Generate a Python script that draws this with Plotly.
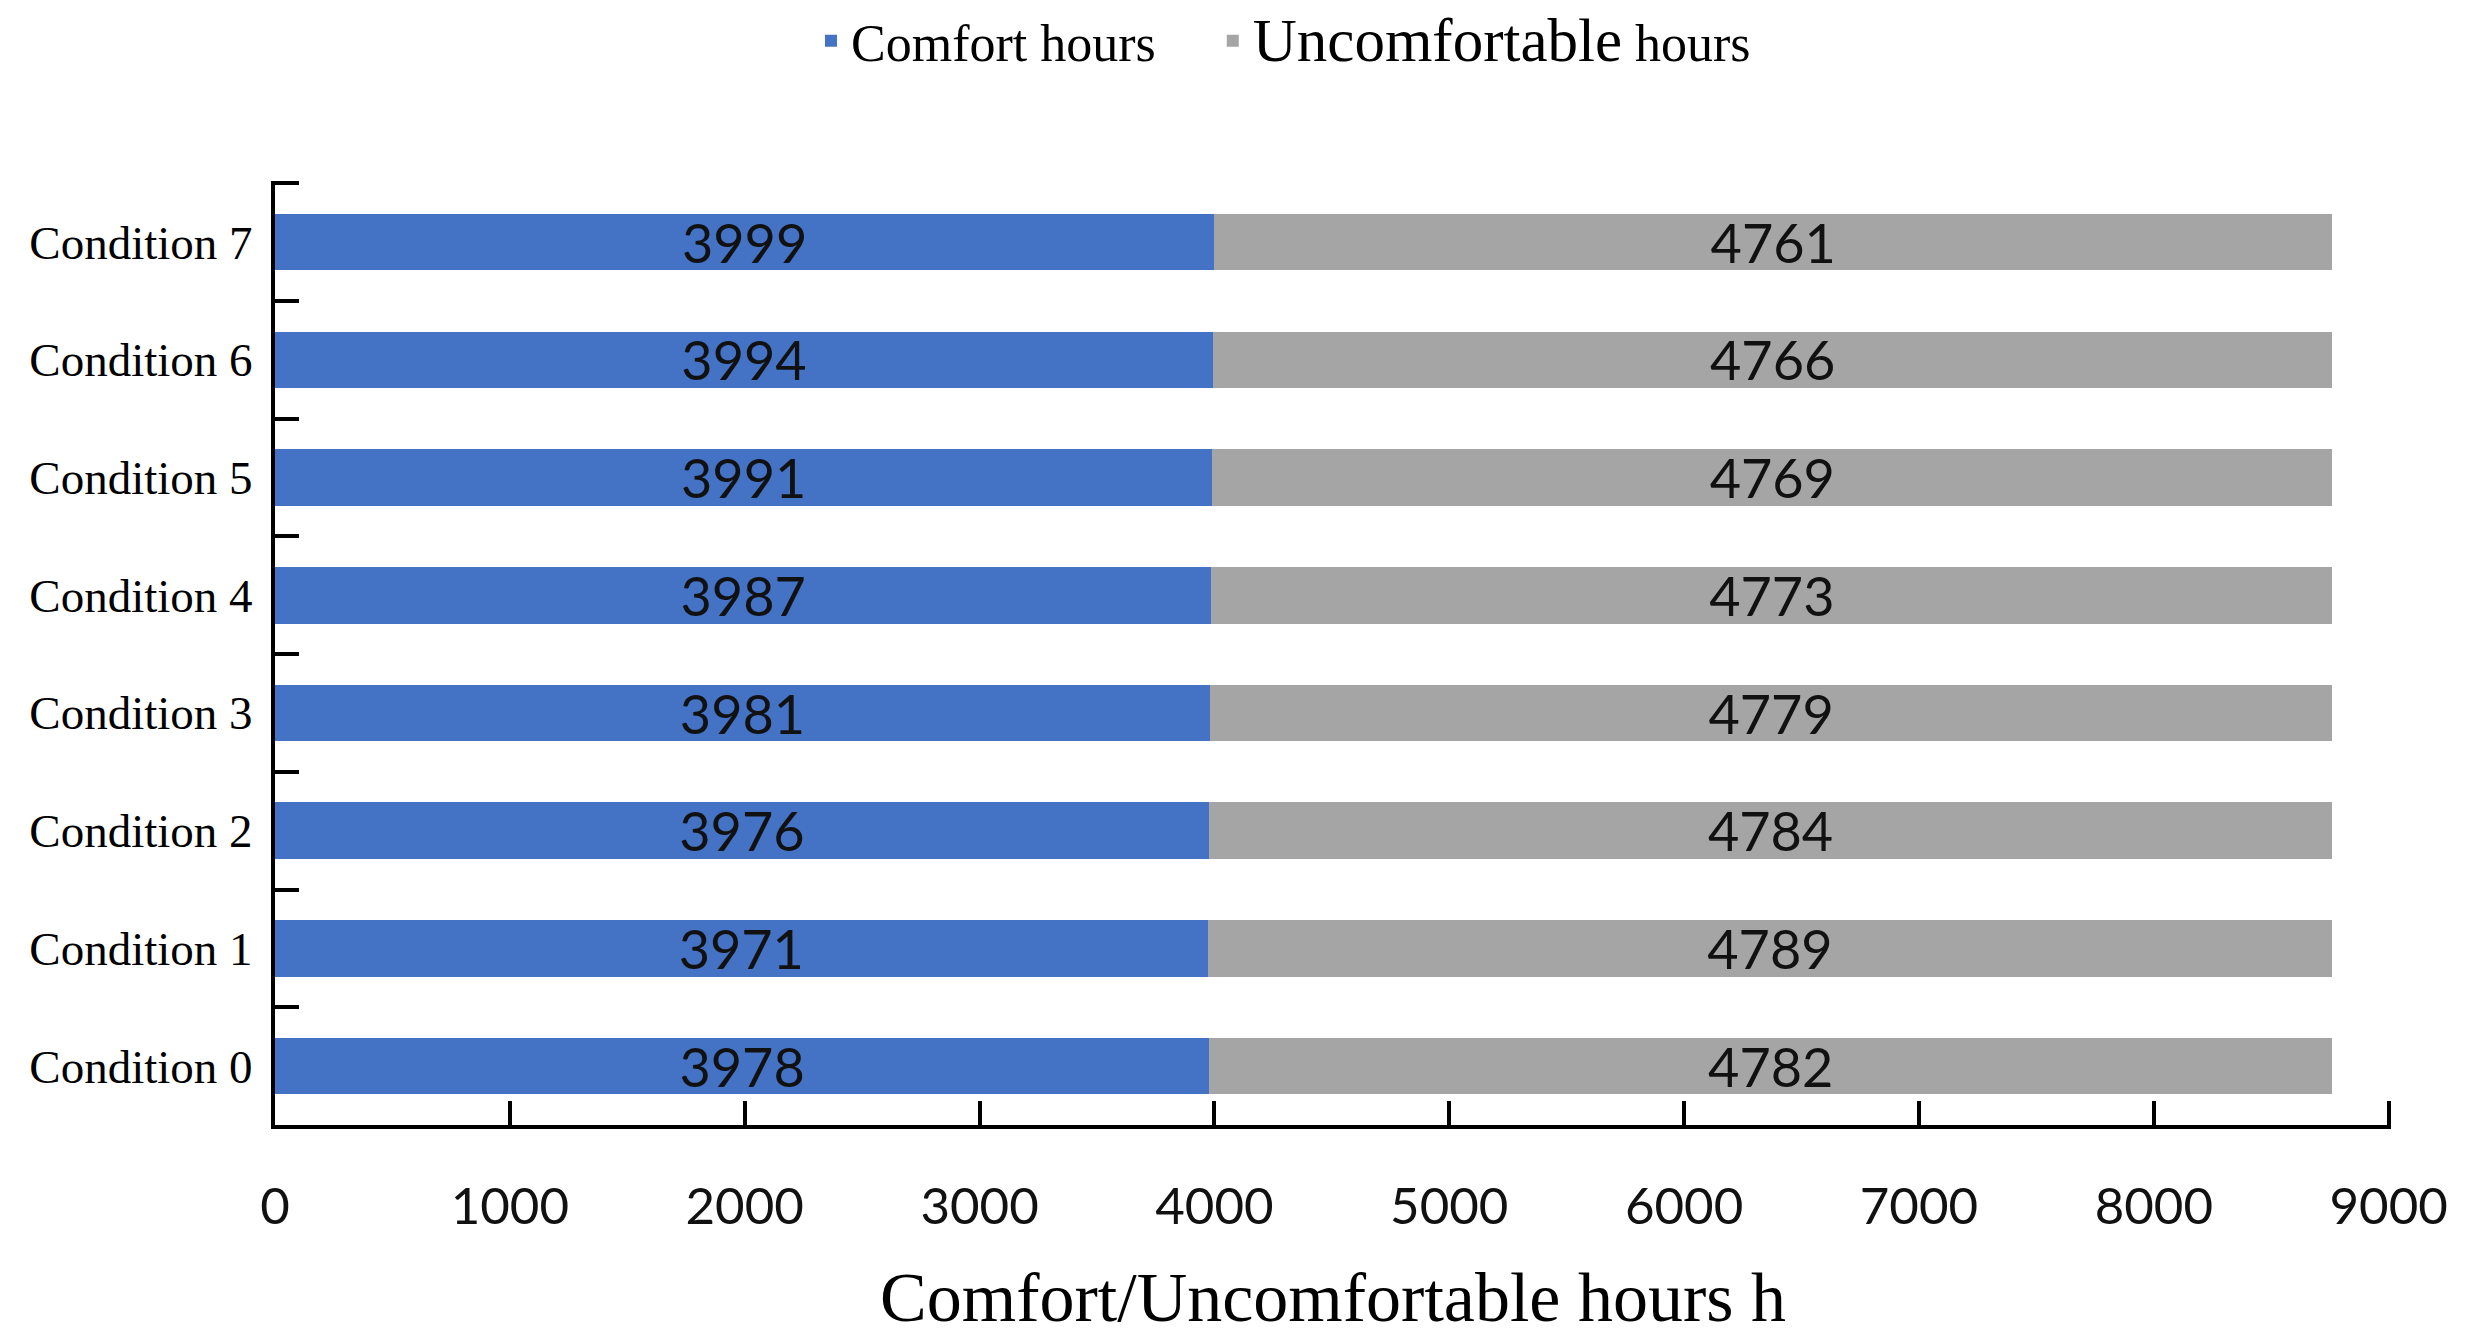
import plotly.graph_objects as go

conditions = ["Condition 0", "Condition 1", "Condition 2", "Condition 3",
              "Condition 4", "Condition 5", "Condition 6", "Condition 7"]
comfort = [3978, 3971, 3976, 3981, 3987, 3991, 3994, 3999]
uncomfortable = [4782, 4789, 4784, 4779, 4773, 4769, 4766, 4761]
x_ticks = [0, 1000, 2000, 3000, 4000, 5000, 6000, 7000, 8000, 9000]

BLUE = "#4472C4"
GRAY = "#A5A5A5"
SANS = "Lato, Liberation Sans, sans-serif"
SERIF = "Liberation Serif, Times New Roman, serif"

fig = go.Figure()
fig.add_trace(go.Bar(
    y=conditions, x=comfort, orientation="h",
    name="Comfort hours&nbsp;&nbsp;&nbsp;&nbsp;",
    marker=dict(color=BLUE, line=dict(width=0)),
    text=[str(v) for v in comfort], textposition="inside",
    insidetextanchor="middle", constraintext="none",
    textfont=dict(family=SANS, size=54, color="#111111"),
))
fig.add_trace(go.Bar(
    y=conditions, x=uncomfortable, orientation="h",
    name="<span style='font-size:61px'>Uncomfortable</span> hours",
    marker=dict(color=GRAY, line=dict(width=0)),
    text=[str(v) for v in uncomfortable], textposition="inside",
    insidetextanchor="middle", constraintext="none",
    textfont=dict(family=SANS, size=54, color="#111111"),
))

fig.update_layout(
    width=2466, height=1344,
    barmode="stack", bargap=0.52,
    paper_bgcolor="white", plot_bgcolor="white",
    margin=dict(l=275, r=75, t=181, b=219, autoexpand=False),
    showlegend=True,
    legend=dict(
        orientation="h", xref="container", yref="container",
        x=(851 - 40) / 2466, xanchor="left", y=1 - 41 / 1344, yanchor="middle",
        font=dict(family=SERIF, size=52, color="#000000"),
        traceorder="normal", itemwidth=30,
    ),
    xaxis=dict(
        range=[0, 9010], tickvals=x_ticks, ticktext=[str(v) for v in x_ticks],
        ticks="inside", ticklen=24, tickwidth=4, tickcolor="#000000",
        showline=True, linewidth=4, linecolor="#000000",
        showgrid=False, zeroline=False,
        tickfont=dict(family=SANS, size=51, color="#111111"),
        ticklabelstandoff=34,
        title=dict(text="Comfort/Uncomfortable hours h",
                   font=dict(family=SERIF, size=70, color="#000000"),
                   standoff=39),
        automargin=False,
    ),
    yaxis=dict(
        type="category", categoryorder="array", categoryarray=conditions,
        range=[-0.5, 7.52], tickson="boundaries",
        ticks="inside", ticklen=24, tickwidth=4, tickcolor="#000000",
        showline=True, linewidth=4, linecolor="#000000",
        showgrid=False, zeroline=False,
        tickfont=dict(family=SERIF, size=47, color="#000000"),
        ticklabelstandoff=9,
        automargin=False,
    ),
)

fig.write_html(
    "out.html",
    config={"displayModeBar": False},
    post_script="document.body.style.margin='0px';document.body.style.overflow='hidden';",
)
